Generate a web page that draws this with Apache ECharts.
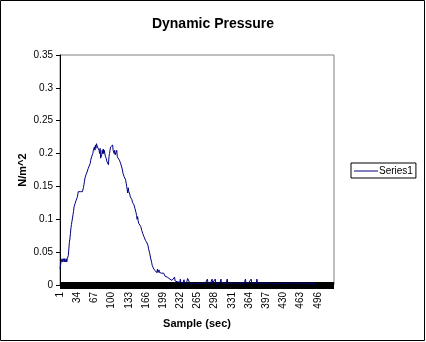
<!DOCTYPE html>
<html>
<head>
<meta charset="utf-8">
<script src="https://cdn.jsdelivr.net/npm/echarts@6/dist/echarts.min.js"></script>
<style>
  html, body { margin: 0; padding: 0; background: #fff; }
  #chart { width: 426px; height: 342px; }
</style>
</head>
<body>
<div id="chart"></div>
<script>
// Sample numbers on the category axis (1 .. 527)
const sampleCount = 527;
const samples = [];
for (let i = 1; i <= sampleCount; i++) samples.push(String(i));

// Dynamic pressure readings (N/m^2), one per sample
const riseValues = [
  0.025,0.03,0.035,0.035,0.04,0.035,0.035,0.04,0.035,0.04,
  0.04,0.035,0.04,0.035,0.04,0.04,0.045,0.055,0.065,0.07,
  0.078,0.087,0.092,0.097,0.102,0.107,0.112,0.119,0.121,0.124,
  0.126,0.129,0.131,0.133,0.137,0.142,0.142,0.142,0.142,0.142,
  0.142,0.142,0.142,0.142,0.142,0.148,0.153,0.158,0.163,0.165,
  0.168,0.17,0.172,0.175,0.177,0.18,0.181,0.183,0.185,0.19,
  0.193,0.196,0.198,0.2,0.205,0.203,0.21,0.205,0.213,0.208,
  0.215,0.213,0.21,0.208,0.212,0.205,0.2,0.208,0.193,0.19
];
const peakValues = [
  0.198,0.205,0.2,0.207,0.2,0.205,0.203,0.196,0.198,0.192,
  0.188,0.185,0.19,0.183,0.195,0.2,0.205,0.21,0.213,0.208,
  0.21,0.213,0.205,0.208,0.2,0.205,0.198,0.2,0.2,0.205,
  0.195,0.198,0.196,0.193,0.19,0.19,0.186,0.183,0.183,0.178,
  0.175,0.17,0.17,0.165,0.163,0.168,0.16,0.155,0.15
];
const fallValues = [
  0.145,0.14,0.148,0.142,0.14,0.138,0.134,0.136,0.134,0.13,
  0.126,0.128,0.124,0.122,0.119,0.116,0.114,0.11,0.106,0.1,
  0.104,0.098,0.094,0.093,0.091,0.091,0.089,0.086,0.083,0.081,
  0.078,0.076,0.074,0.073,0.071,0.068,0.067,0.065,0.064,0.062,
  0.06,0.055,0.053,0.049,0.046,0.041,0.038,0.034,0.03,0.028,
  0.026,0.025,0.023,0.022,0.019,0.024,0.02,0.019,0.024,0.019,
  0.02,0.023,0.019,0.019,0.018,0.018,0.018,0.018,0.018,0.018,
  0.018,0.016,0.015,0.013,0.014,0.013,0.013,0.012,0.01,0.012,
  0.01,0.01,0.009,0.008,0.007,0.012,0.007,0.007,0.01,0.007,
  0.007,0.012,0.006,0.007,0.007,0.009,0.005,0.006,0.006,0.005,
  0.005,0.004,0.009,0.004,0.004,0.005,0.004,0.003,0.004,0.008,
  0.004,0.003,0.003,0.004,0.003,0.003,0.01,0.01,0.008,0.005,
  0.003
];
const tailValues = [
  0.0015,0.003,0.003,0.0015,0.003,0,0.0015,0.003,0.003,0.0015,
  0.003,0.0015,0.0015,0.003,0.0015,0,0.0015,0.003,0.0015,0.0015,
  0.003,0.0015,0.003,0.0015,0.0015,0.003,0.0015,0.003,0.0015,0.003,
  0.0015,0.0015,0.003,0.009,0.003,0.0015,0.003,0.0015,0.0015,0.003,
  0.0015,0.003,0.009,0.003,0.0015,0.003,0.0015,0.0015,0.009,0.003,
  0.0015,0.0015,0.003,0.0015,0.003,0.0015,0.0015,0.003,0.0015,0.009,
  0.003,0.0015,0.003,0.0015,0.0015,0.003,0.0015,0.003,0.0015,0.003,
  0.0015,0.009,0.003,0.0015,0.003,0.0015,0.0015,0.003,0.0015,0.0015,
  0.003,0.0015,0.003,0.0015,0.0015,0.003,0.0015,0.003,0.0015,0.0015,
  0.003,0.0015,0.003,0.0015,0.0015,0.003,0.0015,0.003,0.0015,0.003,
  0.0015,0.003,0.0015,0.0015,0.003,0.0015,0.009,0.003,0.0015,0.003,
  0.0015,0.0015,0.003,0.0015,0.003,0.0015,0.0015,0.009,0.003,0.0015,
  0.003,0.0015,0.0015,0.003,0.0015,0.003,0.0015,0.003,0.009,0.003,
  0.0015,0.003,0.0015,0.0015,0.003,0.0015,0.003,0.0015,0.0015,0.003,
  0.0015,0.003,0.0015,0.0015,0.003,0.0015,0.003,0.0015,0.0015,0.003,
  0.0015,0.003,0.0015,0.0015,0.003,0.0015,0.003,0.0015,0.0015,0.0015,
  0.003,0.0015,0.003,0.0015,0.0015,0.003,0.0015,0.003,0.0015,0.0015,
  0.003,0.0015,0.003,0.0015,0.0015,0.003,0.0015,0.003,0.0015,0.003,
  0.0015,0.003,0.0015,0.0015,0.003,0.0015,0.003,0.0015,0.0015,0.003,
  0.0015,0.003,0.0015,0.0015,0.003,0.0015,0.003,0.0015,0.0015,0.003,
  0.0015,0.003,0.0015,0.003,0.0015,0.0015,0.003,0.0015,0.003,0.0015,
  0.0015,0.003,0.0015,0.003,0.0015,0.0015,0.003,0.0015,0.003,0.0015,
  0.003,0.0015,0.0015,0.003,0.0015,0.003,0.0015,0.0015,0.003,0.0015,
  0.003,0.0015,0.0015,0.003,0.0015,0.003,0.0015,0.0015,0.003,0
];
const series1 = riseValues.concat(peakValues, fallValues, tailValues);

const yTicks = { min: 0, max: 0.35, step: 0.05 };
const labelFont = 'Liberation Sans, Arial, sans-serif';

const chart = echarts.init(document.getElementById('chart'), null, { renderer: 'canvas' });
chart.setOption({
  backgroundColor: '#ffffff',
  animation: false,
  title: {
    text: 'Dynamic Pressure',
    left: 'center',
    top: 12,
    textStyle: { fontFamily: labelFont, fontSize: 14, fontWeight: 'bold', color: '#000' }
  },
  legend: {
    data: [{ name: 'Series1', icon: 'rect' }],
    left: 351,
    top: 163,
    orient: 'vertical',
    padding: [3, 3, 2, 3],
    itemWidth: 24,
    itemHeight: 1,
    itemGap: 0,
    borderColor: '#000',
    borderWidth: 1,
    borderRadius: 0,
    itemStyle: { color: '#000080', borderWidth: 0 },
    lineStyle: { width: 0 },
    textStyle: { fontFamily: labelFont, fontSize: 10, color: '#000', padding: [0, 0, 0, -4] }
  },
  grid: {
    left: 60, top: 55, right: 92, bottom: 57,
    show: true, borderColor: '#808080', borderWidth: 1, backgroundColor: '#fff'
  },
  xAxis: {
    type: 'category',
    data: samples,
    boundaryGap: false,
    name: 'Sample (sec)',
    nameLocation: 'middle',
    nameGap: 33,
    nameMoveOverlap: false,
    nameTextStyle: { fontFamily: labelFont, fontSize: 11, fontWeight: 'bold', color: '#000' },
    axisLine: { lineStyle: { color: '#000', width: 7, cap: 'butt' } },
    axisTick: { show: false },
    axisLabel: {
      interval: 32,
      rotate: 90,
      margin: 7,
      fontFamily: labelFont,
      fontSize: 10,
      color: '#000'
    },
    splitLine: { show: false }
  },
  yAxis: {
    type: 'value',
    min: yTicks.min,
    max: yTicks.max,
    interval: yTicks.step,
    name: 'N/m^2',
    nameLocation: 'middle',
    nameGap: 32,
    nameMoveOverlap: false,
    nameRotate: 90,
    nameTextStyle: { fontFamily: labelFont, fontSize: 11, fontWeight: 'bold', color: '#000' },
    axisLine: { show: true, lineStyle: { color: '#000', width: 1 } },
    axisTick: { show: true, length: 4, lineStyle: { color: '#000' } },
    axisLabel: { margin: 7, fontFamily: labelFont, fontSize: 10, color: '#000' },
    splitLine: { show: false }
  },
  series: [{
    name: 'Series1',
    type: 'line',
    data: series1,
    symbol: 'none',
    z: 5,
    lineStyle: { color: '#000080', width: 1 },
    itemStyle: { color: '#000080' }
  }],
  graphic: [{
    type: 'rect',
    shape: { x: 0.5, y: 0.5, width: 424, height: 340 },
    style: { fill: null, stroke: '#000', lineWidth: 1 },
    silent: true,
    z: 100
  }]
});
</script>
</body>
</html>
